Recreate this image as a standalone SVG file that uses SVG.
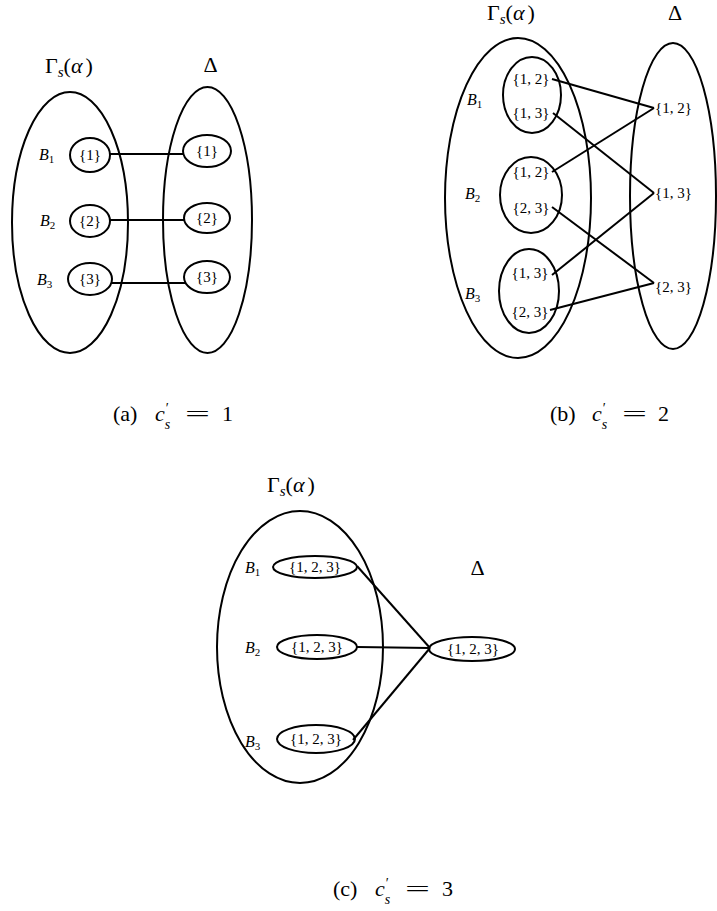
<svg xmlns="http://www.w3.org/2000/svg" width="717" height="911" viewBox="0 0 717 911">
<style>
.sh{fill:none;stroke:#000;stroke-width:2}
.conn line{stroke:#000;stroke-width:2}
text{font-family:"Liberation Serif","Times New Roman","DejaVu Serif",serif;fill:#000}
.lbl{font-size:15px;text-anchor:middle}
.lbr{font-size:15px}
.b{font-style:italic;font-size:16px}
.sub{font-size:11px;font-style:normal}
.m{font-size:22px}
.ms{font-size:15px;font-style:italic}
.cap{font-size:22px}
.pr{font-size:14px}
.ss{font-size:14px;font-style:italic}
</style>
<rect width="717" height="911" fill="#fff"/>

<!-- Panel (a) -->
<g id="a-gamma-label">
<text class="m" x="45" y="73">Γ<tspan class="ms" dy="4">s</tspan><tspan dy="-4">(</tspan><tspan font-style="italic">α</tspan><tspan dx="3">)</tspan></text>
</g>
<g id="a-delta-label"><text class="m" x="210.5" y="72" text-anchor="middle">Δ</text></g>
<g id="a-gamma"><ellipse class="sh" cx="70" cy="222.5" rx="58" ry="130.5"/></g>
<g id="a-delta"><ellipse class="sh" cx="207.5" cy="220" rx="44.5" ry="133"/></g>
<g id="a-B1"><text class="b" x="39" y="160">B<tspan class="sub" dy="3">1</tspan></text><ellipse class="sh" cx="90" cy="155" rx="20" ry="17"/><text class="lbl" x="90" y="160">{1}</text></g>
<g id="a-B2"><text class="b" x="40" y="226">B<tspan class="sub" dy="3">2</tspan></text><ellipse class="sh" cx="90" cy="221" rx="20" ry="16"/><text class="lbl" x="90" y="226">{2}</text></g>
<g id="a-B3"><text class="b" x="37" y="285">B<tspan class="sub" dy="3">3</tspan></text><ellipse class="sh" cx="90" cy="279" rx="22" ry="16"/><text class="lbl" x="90" y="284">{3}</text></g>
<g id="a-D1"><ellipse class="sh" cx="207" cy="151" rx="24" ry="16"/><text class="lbl" x="207" y="156">{1}</text></g>
<g id="a-D2"><ellipse class="sh" cx="207" cy="218" rx="23" ry="15"/><text class="lbl" x="207" y="223">{2}</text></g>
<g id="a-D3"><ellipse class="sh" cx="207" cy="277" rx="23" ry="16"/><text class="lbl" x="207" y="282">{3}</text></g>
<g id="a-connectors" class="conn">
<line x1="110" y1="154" x2="183" y2="154"/>
<line x1="110" y1="220" x2="184" y2="220"/>
<line x1="112" y1="283" x2="185" y2="283"/>
</g>
<g id="a-caption">
<text class="cap" x="113" y="421">(a)</text>
<text class="cap" x="155" y="421"><tspan font-style="italic">c</tspan><tspan class="pr" dx="1" dy="-8">′</tspan><tspan class="ss" dx="-4" dy="16">s</tspan></text>
<text class="cap" x="185" y="421" textLength="25" lengthAdjust="spacingAndGlyphs">=</text>
<text class="cap" x="222" y="421">1</text>
</g>

<!-- Panel (b) -->
<g id="b-gamma-label">
<text class="m" x="487" y="20">Γ<tspan class="ms" dy="4">s</tspan><tspan dy="-4">(</tspan><tspan font-style="italic">α</tspan><tspan dx="3">)</tspan></text>
</g>
<g id="b-delta-label"><text class="m" x="675" y="20" text-anchor="middle">Δ</text></g>
<g id="b-gamma"><ellipse class="sh" cx="518" cy="198" rx="73" ry="160"/></g>
<g id="b-delta"><ellipse class="sh" cx="673" cy="196" rx="43" ry="153"/></g>
<g id="b-B1"><text class="b" x="467" y="105">B<tspan class="sub" dy="3">1</tspan></text><ellipse class="sh" cx="532" cy="95" rx="29" ry="38"/><text class="lbl" x="531" y="84">{1, 2}</text><text class="lbl" x="531" y="118">{1, 3}</text></g>
<g id="b-B2"><text class="b" x="465" y="199">B<tspan class="sub" dy="3">2</tspan></text><ellipse class="sh" cx="531" cy="195" rx="31" ry="38"/><text class="lbl" x="531" y="177">{1, 2}</text><text class="lbl" x="531" y="213">{2, 3}</text></g>
<g id="b-B3"><text class="b" x="465" y="299">B<tspan class="sub" dy="3">3</tspan></text><ellipse class="sh" cx="529" cy="291" rx="30" ry="42"/><text class="lbl" x="530" y="278">{1, 3}</text><text class="lbl" x="530" y="317">{2, 3}</text></g>
<g id="b-D12"><text class="lbr" x="655" y="113">{1, 2}</text></g>
<g id="b-D13"><text class="lbr" x="655" y="198">{1, 3}</text></g>
<g id="b-D23"><text class="lbr" x="655" y="292">{2, 3}</text></g>
<g id="b-connectors" class="conn">
<line x1="552" y1="79" x2="654" y2="108"/>
<line x1="552" y1="172" x2="654" y2="108"/>
<line x1="553" y1="113" x2="654" y2="193"/>
<line x1="552" y1="275" x2="654" y2="193"/>
<line x1="552" y1="207" x2="654" y2="283"/>
<line x1="550" y1="310" x2="654" y2="283"/>
</g>
<g id="b-caption">
<text class="cap" x="550" y="421">(b)</text>
<text class="cap" x="592" y="421"><tspan font-style="italic">c</tspan><tspan class="pr" dx="1" dy="-8">′</tspan><tspan class="ss" dx="-4" dy="16">s</tspan></text>
<text class="cap" x="622" y="421" textLength="25" lengthAdjust="spacingAndGlyphs">=</text>
<text class="cap" x="658" y="421">2</text>
</g>

<!-- Panel (c) -->
<g id="c-gamma-label">
<text class="m" x="267" y="492">Γ<tspan class="ms" dy="4">s</tspan><tspan dy="-4">(</tspan><tspan font-style="italic">α</tspan><tspan dx="3">)</tspan></text>
</g>
<g id="c-delta-label"><text class="m" x="477.5" y="575" text-anchor="middle">Δ</text></g>
<g id="c-gamma"><ellipse class="sh" cx="300" cy="647" rx="83" ry="136"/></g>
<g id="c-B1"><text class="b" x="245" y="573">B<tspan class="sub" dy="3">1</tspan></text><ellipse class="sh" cx="315" cy="567" rx="42" ry="11"/><text class="lbl" x="315" y="572">{1, 2, 3}</text></g>
<g id="c-B2"><text class="b" x="245" y="653">B<tspan class="sub" dy="3">2</tspan></text><ellipse class="sh" cx="317" cy="647" rx="40" ry="12"/><text class="lbl" x="317" y="652">{1, 2, 3}</text></g>
<g id="c-B3"><text class="b" x="245" y="747">B<tspan class="sub" dy="3">3</tspan></text><ellipse class="sh" cx="316" cy="739" rx="39" ry="14"/><text class="lbl" x="316" y="744">{1, 2, 3}</text></g>
<g id="c-D"><ellipse class="sh" cx="472" cy="649" rx="43" ry="12"/><text class="lbl" x="473" y="654">{1, 2, 3}</text></g>
<g id="c-connectors" class="conn">
<line x1="357" y1="566" x2="430" y2="648"/>
<line x1="357" y1="647" x2="430" y2="648"/>
<line x1="353" y1="740" x2="430" y2="648"/>
</g>
<g id="c-caption">
<text class="cap" x="333" y="896">(c)</text>
<text class="cap" x="375" y="896"><tspan font-style="italic">c</tspan><tspan class="pr" dx="1" dy="-8">′</tspan><tspan class="ss" dx="-4" dy="16">s</tspan></text>
<text class="cap" x="405" y="896" textLength="25" lengthAdjust="spacingAndGlyphs">=</text>
<text class="cap" x="442" y="896">3</text>
</g>
</svg>
